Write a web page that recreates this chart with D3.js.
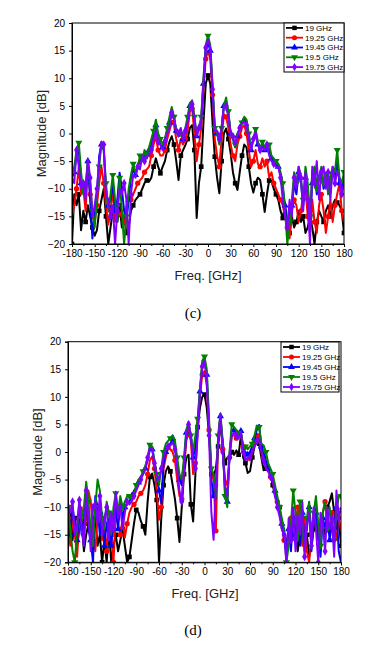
<!DOCTYPE html>
<html><head><meta charset="utf-8">
<script src="https://cdn.jsdelivr.net/npm/d3@7"></script>
<style>body{margin:0;background:#fff;} svg{display:block;}</style>
</head><body>
<svg id="chart" width="379" height="656"></svg>
<script>
const freq = [-180,-177,-174,-171,-168,-165,-162,-159,-156,-153,-150,-147,-144,-141,-138,-135,-132,-129,-126,-123,-120,-117,-114,-111,-108,-105,-102,-99,-96,-93,-90,-87,-84,-81,-78,-75,-72,-69,-66,-63,-60,-57,-54,-51,-48,-45,-42,-39,-36,-33,-30,-27,-24,-21,-18,-15,-12,-9,-6,-3,0,3,6,9,12,15,18,21,24,27,30,33,36,39,42,45,48,51,54,57,60,63,66,69,72,75,78,81,84,87,90,93,96,99,102,105,108,111,114,117,120,123,126,129,132,135,138,141,144,147,150,153,156,159,162,165,168,171,174,177,180];
const seriesNames = ["19 GHz","19.25 GHz","19.45 GHz","19.5 GHz","19.75 GHz"];
const xTicks = [-180,-150,-120,-90,-60,-30,0,30,60,90,120,150,180];
const yTicks = [-20,-15,-10,-5,0,5,10,15,20];

// Panel (c)
const c_19 = [-20,-11,-13,-11,-17.5,-14,-16,-13,-15,-17,-18.5,-17.5,-14,-12,-10,-15,-20,-17,-14,-15,-16,-13,-17,-15,-18,-17,-14,-13,-12,-11.5,-11,-10,-9,-8.5,-8.7,-8,-6,-4.5,-6,-7.2,-6,-5,-3,-1.5,-0.5,-2,-5,-8.4,-4,-3,-2.1,-1,1,1.5,-3,-15.3,-9,-6,2,9,10.5,9,2,-4.2,-8,-10.8,-5,0,0.9,-1,-3.6,-7,-9,-10.2,-7,-4,-2,-2.5,-6,-9,-10.7,-9,-8,-8.4,-11,-14.2,-11,-8.5,-8.6,-10,-11,-12,-14,-15.3,-13,-16,-18,-15,-17,-16,-14,-16,-15,-18,-17,-15,-17,-20,-16,-14,-15,-16,-14,-13,-15,-13,-12,-12.5,-13,-14,-18];
const c_1925 = [-15,-13,-10,-6,-11,-10,-14,-6,-11,-15,-16,-13,-9,-6,-9,-13,-16.5,-14,-10,-16,-13,-15,-14,-16,-13,-11,-12,-11,-10,-9,-8.5,-8,-7,-6.5,-6,-4,-2,-0.5,-3,-4,-4,-3,-1,0.5,2,1.5,-1,-3,-1,-2,-1,0.5,4,4.5,0,-5,-2,1,8,13.5,15,13.5,7,-1,-4,-6,-1,3.5,3,1,-2,-4,-5,-2,-0.5,1,1.5,0,-3,-6,-5,-3,-5.5,-6,-4.5,-6,-5,-8,-7,-9,-10,-11,-12,-13,-15,-17,-19,-14,-12,-13,-16,-14,-11,-10,-15,-18,-12,-16,-18,-13,-11,-14,-18,-15,-12,-16,-13,-11,-9,-14,-16];
const c_1945 = [-8,-7,-4,-3,-9,-10,-11,-5,-12,-19,-14,-11,-4,-2,-3,-10,-13,-12,-9,-14,-12,-7.1,-10,-14,-16,-12,-8,-6.5,-7.5,-6,-5,-4.5,-4,-4.5,-3,-2,0,1.5,-1,-2,-2.5,-1,0.5,2,4.2,3,0.5,-0.5,0.5,-1,0.5,2.5,5,5.5,2.5,-0.5,1,2.5,9,15,16.5,15,8,1,0,-1.5,1,5,5.5,3.5,0,-1,-2.5,-0.5,1,2,2.5,2,-0.5,-3,-1,0,-2,-3,-2,-3,-2.5,-3,-4.5,-5,-5.5,-6,-7.5,-10,-13,-18,-14,-13,-9,-11,-7,-9,-13,-8,-10,-16,-9,-7,-11,-8,-7,-10,-8,-9,-10,-7,-8,-5,-9,-10,-8];
const c_195 = [-7,-6,-3,-1.7,-7,-11,-9,-5,-9,-14,-17,-12,-6,-1.5,-3,-9,-14,-11,-7.5,-12,-16,-8,-14,-20,-15,-10,-7.5,-5.5,-7,-6,-4,-5,-3,-4,-2.5,-1,0.5,2.5,0,-1,-2,-1,1,3,4.8,3,0.5,-0.5,0,-1,1,3,5.5,6,3,0,1,3,10,16,17.7,16,9,1,0,-2,1,5,6.5,4,0,-1,-2,0,1,2,3,2.5,0,-2.5,-1,0.8,-1.5,-3,-1.5,-2.5,-1.8,-2,-4,-4.5,-5,-5.5,-7,-9,-14,-20,-16,-12,-7,-9,-6,-8,-12,-6,-9,-15,-7,-6,-10,-8,-6,-9,-7,-11,-8,-6,-7,-3,-8,-9,-7];
const c_1975 = [-8,-9,-3,-6,-10,-9,-12,-4.7,-8,-15,-13,-10,-5,-1.5,-2,-11,-12,-15,-13,-20,-14,-10,-11,-9,-12,-20,-11,-7.5,-8,-6,-6.5,-4,-5,-4,-4,-3,-1,0.5,-1.5,-2,-3,-1.5,0,1,3.8,2.5,0.5,0,1,-1.5,0.5,2,4.5,5.3,2.5,-0.5,1,2,9.5,15.5,17,15.5,8,0.5,0.5,-1,1,5,5,3,0,-0.5,-2,-0.5,1,2,2,1.5,-1,-3,-1,0.3,-2,-3,-2.5,-3,-2,-4,-5,-5.5,-6,-6,-8,-12,-15,-17,-12,-15,-8,-10,-6,-8,-14,-7,-12,-20,-6,-9,-5,-12,-7,-6,-10,-7,-12,-6,-9,-7,-8,-11,-9];

// Panel (d)
const d_19 = [-10,-11,-16,-12,-17,-14,-13,-18,-15,-13,-16,-14,-12,-17,-15,-20,-16,-20,-14,-20,-17,-15,-18,-16,-14,-17,-20,-19,-16,-13,-10.5,-11,-12.5,-13.5,-15,-9,-4.5,-3.9,-6,-8.7,-20,-12,-6,-3.5,-2.6,-3.5,-6,-8.5,-12,-16.3,-10,-4,-1,-0.5,-9.5,-12.6,-4,4.5,8,10,10.4,8,3,-4,-4.5,-3,1,5,2,-2,-1,-1,0,-0.5,0.3,-0.5,3,-1,-2,-3.8,-3.5,-1,1,2.2,1.5,-1,-3.3,-3,-3.5,-4,-6,-8,-9,-10,-14,-15,-17,-14,-16,-12,-15,-18,-14,-12,-17,-15,-19,-17,-14,-12,-16,-14,-12,-15,-10,-9,-7.5,-11,-14,-12,-17];
const d_1925 = [-13,-17,-12,-15,-19,-12,-10,-15,-12,-7,-9,-14,-18,-12,-11,-16,-14,-18,-12,-15,-20,-11,-13,-15,-12,-15.5,-13,-11,-10,-9.5,-9,-8,-7.5,-7,-6,-4,-1.5,-0.8,-3,-7,-12.3,-10,-3,-1,0.8,0.5,0,-1.5,-5,-8,-8.5,-3,2,3.5,2,-4,-2,5.8,10,14,14.7,12,4,-4,-5,-14.3,2,6.5,0.5,-5,-6,-1,3,3,2.5,3,3.5,1,-1,-1.5,-0.5,0,1.5,3,2,0.5,-1,-2,-3,-4.5,-5.5,-7,-9,-10,-13,-16,-17,-15,-12,-16,-13,-10,-14,-17,-12,-18,-20,-15,-13,-10,-14,-16,-11,-9,-12,-15,-11,-13,-16,-12,-14];
const d_1945 = [-12,-15,-10,-13,-16,-10,-15,-12,-8,-14,-16,-20,-8,-10,-15,-11,-17,-13,-12,-17,-12,-10,-14,-9,-12,-10,-9.5,-9,-8,-7,-6.5,-5.5,-4.5,-4,-3,-1.5,0.5,0.5,-2,-4.5,-7,-9.3,-2,0,1,1.5,2.5,1.5,-2,-5,-6,-2,3.5,5,3,-1,1,5,11,15.5,16.7,14,5,-5,-8,-7,2.5,6.5,1,-7,-9,-0.5,4,4,3.5,3,3.8,0.5,0,-0.5,0,1,2.5,4,4.9,1,0,-1.5,-3,-4,-5,-7,-9,-10.5,-13,-16,-17,-14,-18,-11,-15,-13,-17,-11,-16,-14,-10,-18,-13,-11,-15,-19,-12,-14,-11,-16,-13,-15,-10,-18,-20];
const d_195 = [-10,-14,-18,-20,-14,-9,-12,-10,-5.4,-9,-14,-17,-10,-5,-7,-12,-14,-9,-11,-15,-10,-7.5,-11,-8,-10,-9,-8,-8,-8.5,-7.5,-6,-5,-4.5,-3.5,-2.5,-1,1.3,1,-1.5,-4,-6,-3,0,1.5,2,2.5,3,2,-1,-4,-5,-1,4,5.5,3,0,3,6,11.5,16.5,17.3,15,6,-3,-4,-8,3,7,2,-8,-10,0,5,4.5,4,3.5,3.5,1,1,0.5,1,1.5,3,4.8,4.5,1.5,1.2,0,-2,-3,-4,-6,-8,-10,-12,-14,-20,-17,-13,-7,-11,-16,-9,-14,-18,-12,-9,-15,-11,-8,-13,-17,-11,-9,-14,-10,-13,-16,-11,-8,-8];
const d_1975 = [-9.5,-11,-9,-15,-13,-8.7,-14,-17,-7,-12,-18,-10,-9,-13,-8,-15,-12,-10,-16,-11,-14,-7.2,-12,-10,-14,-11,-9,-9.5,-9,-8,-7,-6,-5,-4,-3,-1,0.8,0.5,-2,-4,-5,-3,-1,0.5,1,1.2,1.8,0.5,-3,-7,-9,-3,3,5,3,-2,-3,3,11,15.5,16.5,13,3,-10.8,-15.9,-6,2,6.8,0,-6,-8,-1,3,3.5,3,2.5,3.5,0,-1.5,-1,-1,0,1,2,2.5,0,-1.5,-3,-3.5,-4.5,-5,-8,-10,-11.7,-14,-15,-20,-12,-16,-10,-18,-12,-15,-9,-19,-13,-11,-17,-10,-14,-20,-11,-13,-18,-10,-14,-12,-19,-7,-12,-10];

const colors = ["#000000","#ff0000","#0000ff","#008000","#8000ff"];
const shapes = [d3.symbolSquare, d3.symbolCircle, d3.symbolTriangle, "down", d3.symbolDiamond];

const svg = d3.select("#chart");
const FONT = "Liberation Sans, Arial, sans-serif";

function symPath(i, size){
  if (shapes[i] === "down") {
    return d3.symbol().type(d3.symbolTriangle).size(size)();
  }
  return d3.symbol().type(shapes[i]).size(size)();
}

function drawPanel(cfg){
  const {L,R,T,B,data,legend,label,labelY,titleX,titleY,yTitleX} = cfg;
  const g = svg.append("g");
  const x = d3.scaleLinear().domain([-180,180]).range([L,R]);
  const y = d3.scaleLinear().domain([-20,20]).range([B,T]);
  const clipId = "clip"+label.replace(/[()]/g,"");
  svg.append("clipPath").attr("id",clipId).append("rect")
    .attr("x",L).attr("y",T-3).attr("width",R-L).attr("height",B-T+3);

  const plot = g.append("g").attr("clip-path",`url(#${clipId})`);
  const line = d3.line().x((d,i)=>x(freq[i])).y(d=>y(Math.max(-20,d)));
  data.forEach((vals,si)=>{
    plot.append("path").datum(vals).attr("d",line)
      .attr("fill","none").attr("stroke",colors[si]).attr("stroke-width",2)
      .attr("stroke-linejoin","round");
    const pts = vals.map((v,i)=>({f:freq[i],v})).filter((d,i)=>(i+si)%3===0);
    plot.selectAll(null).data(pts).enter().append("path")
      .attr("d",symPath(si,22))
      .attr("transform",d=>`translate(${x(d.f)},${y(Math.max(-20,d.v))})${shapes[si]==="down"?" rotate(180)":""}`)
      .attr("fill",colors[si]);
  });

  // frame
  g.append("rect").attr("x",L).attr("y",T).attr("width",R-L).attr("height",B-T)
    .attr("fill","none").attr("stroke","#000").attr("stroke-width",1);

  // axes
  const xa = g.append("g").attr("transform",`translate(0,${B})`)
    .call(d3.axisBottom(x).tickValues(xTicks).tickSize(3).tickPadding(3).tickFormat(d=>d));
  const minor = xTicks.slice(0,-1).map(t=>t+15);
  g.append("g").attr("transform",`translate(0,${B})`)
    .call(d3.axisBottom(x).tickValues(minor).tickSize(2).tickFormat(""))
    .select(".domain").remove();
  const ya = g.append("g").attr("transform",`translate(${L},0)`)
    .call(d3.axisLeft(y).tickValues(yTicks).tickSize(3).tickPadding(4));
  [xa,ya].forEach(a=>{
    a.selectAll("text").attr("font-family",FONT).attr("font-size",10).attr("fill","#000");
    a.select(".domain").attr("stroke","#000");
  });

  // titles
  g.append("text").attr("x",titleX).attr("y",titleY).attr("text-anchor","middle")
    .attr("font-family",FONT).attr("font-size",13).attr("fill","#222").text("Freq. [GHz]");
  g.append("text").attr("transform",`translate(${yTitleX},${(T+B)/2}) rotate(-90)`)
    .attr("text-anchor","middle").attr("font-family",FONT).attr("font-size",13)
    .attr("fill","#222").text("Magnitude [dB]");
  g.append("text").attr("x",193).attr("y",labelY).attr("text-anchor","middle")
    .attr("font-family","Liberation Serif, Times New Roman, serif").attr("font-size",15)
    .attr("fill","#000").text(label);

  // legend
  const lg = g.append("g");
  lg.append("rect").attr("x",legend.x).attr("y",legend.y).attr("width",legend.w).attr("height",legend.h)
    .attr("fill","#fff").attr("stroke","#000").attr("stroke-width",1);
  const rowH = legend.h/5;
  seriesNames.forEach((n,i)=>{
    const cy = legend.y + rowH*(i+0.5);
    lg.append("line").attr("x1",legend.x+2).attr("x2",legend.x+19).attr("y1",cy).attr("y2",cy)
      .attr("stroke",colors[i]).attr("stroke-width",1.8);
    lg.append("path").attr("d",symPath(i,20))
      .attr("transform",`translate(${legend.x+10.5},${cy})${shapes[i]==="down"?" rotate(180)":""}`)
      .attr("fill",colors[i]);
    lg.append("text").attr("x",legend.x+21).attr("y",cy).attr("dy","0.35em")
      .attr("font-family",FONT).attr("font-size",8).attr("fill","#000").text(n);
  });
}

drawPanel({L:72,R:344,T:23,B:244,data:[c_19,c_1925,c_1945,c_195,c_1975],
  legend:{x:284,y:23,w:60,h:49},label:"(c)",labelY:318,titleX:208,titleY:280,yTitleX:46});
drawPanel({L:68,R:341,T:341.7,B:562.3,data:[d_19,d_1925,d_1945,d_195,d_1975],
  legend:{x:281,y:342,w:58,h:50},label:"(d)",labelY:635,titleX:205,titleY:598,yTitleX:42});
</script>
</body></html>
